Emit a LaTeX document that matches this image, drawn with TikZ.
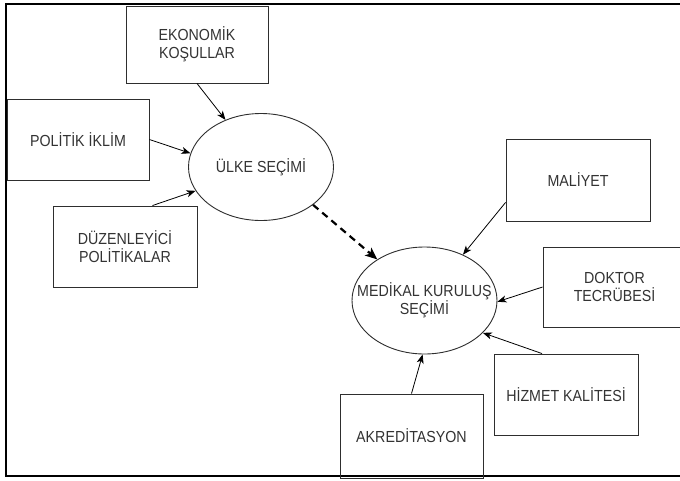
\documentclass[tikz,border=0pt]{standalone}
\usepackage{fontspec}
\setmainfont{Liberation Sans}[FakeStretch=0.89]
\usetikzlibrary{shapes.geometric,arrows.meta,calc}
\definecolor{txtc}{HTML}{333333}
\definecolor{linec}{HTML}{2E2E2E}
\begin{document}
\begin{tikzpicture}[x=1pt,y=-1pt,
  box/.style={draw=linec,line width=0.9pt,rectangle,inner sep=0pt,
    text=txtc,align=center,font=\fontsize{16}{18}\selectfont},
  oval/.style={draw=linec,line width=0.9pt,ellipse,inner sep=0pt,
    minimum width=145pt,minimum height=107pt},
  ovaltext/.style={text=txtc,align=center,font=\fontsize{16}{18}\selectfont,inner sep=0pt},
  arr/.style={draw=black,line width=0.8pt,-{Stealth[length=9pt,width=7pt,inset=2.5pt]}},
  darr/.style={draw=black,line width=2.2pt,dash pattern=on 7pt off 5pt,
    -{Stealth[length=12pt,width=10pt,inset=3pt]}}
]
\useasboundingbox[fill=white] (0,0) rectangle (680,480);
% outer frame (right side lies outside the picture)
\draw[line width=2pt,black] (690,4) -- (6,4) -- (6,476) -- (690,476);

% boxes
\node[box,minimum width=142pt,minimum height=77pt] (ekon) at (197,44.5) {EKONOM\.IK\\KO\c{S}ULLAR};
\node[box,minimum width=142pt,minimum height=81pt] (pol) at (78,139.5) {POL\.IT\.IK \.IKL\.IM};
\node[box,minimum width=144pt,minimum height=81pt] (duz) at (125,246.5) {D\"UZENLEY\.IC\.I\\POL\.IT\.IKALAR};
\node[box,minimum width=144pt,minimum height=82pt] (mal) at (578,180) {MAL\.IYET};
\node[box,minimum width=143pt,minimum height=80pt] (dok) at (614.5,287) {DOKTOR\\TECR\"UBES\.I};
\node[box,minimum width=144pt,minimum height=81pt] (hiz) at (566,394.5) {H\.IZMET KAL\.ITES\.I};
\node[box,minimum width=143pt,minimum height=84pt] (akr) at (411.5,436) {AKRED\.ITASYON};

% ellipses
\node[oval,label={[ovaltext]center:\"ULKE SE\c{C}\.IM\.I}] (ulke) at (261,167) {};
\node[oval,label={[ovaltext]center:MED\.IKAL KURULU\c{S}\\SE\c{C}\.IM\.I}] (med) at (424.5,300.5) {};

% connectors
\draw[arr] (ekon.south) -- (ulke.127);
\draw[arr] (pol.east) -- (ulke.169);
\draw[arr] ([xshift=-45pt]duz.north east) -- (ulke.200);
\draw[darr] (ulke.-36) -- (med.139);
\draw[arr] ([yshift=19pt]mal.south west) -- (med.50);
\draw[arr] (dok.west) -- (med.-1);
\draw[arr] ([xshift=-24pt]hiz.north) -- (med.-29);
\draw[arr] (akr.north) -- (med.-92);
\end{tikzpicture}
\end{document}
